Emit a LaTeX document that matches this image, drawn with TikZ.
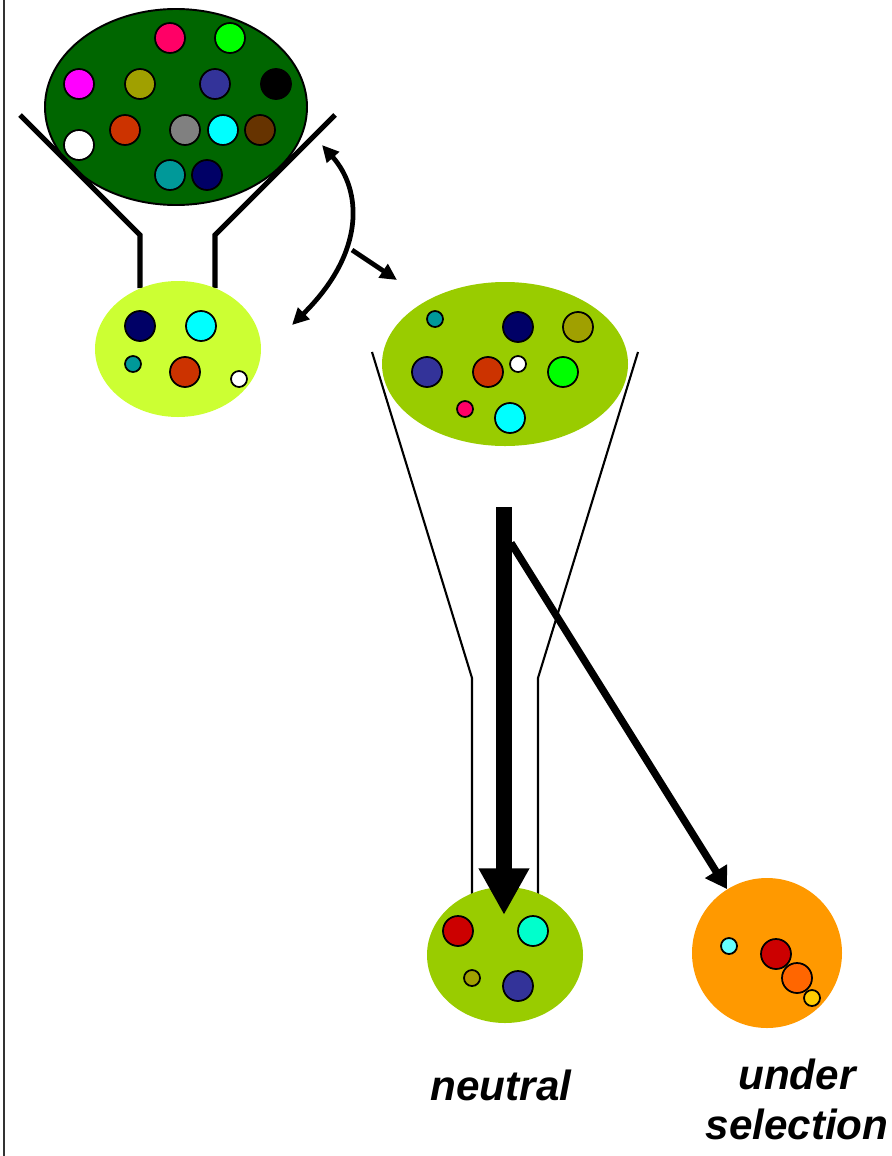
\documentclass[tikz,border=0pt]{standalone}
\usepackage{fontspec}
\setmainfont{Liberation Sans}
\usetikzlibrary{shapes.geometric,arrows.meta}

\definecolor{poolgreen}{HTML}{006600}
\definecolor{palegreen}{HTML}{CCFF33}
\definecolor{midgreen}{HTML}{99CC00}
\definecolor{selorange}{HTML}{FF9900}
\definecolor{cpink}{HTML}{FF0066}
\definecolor{clime}{HTML}{00FF00}
\definecolor{cmagenta}{HTML}{FF00FF}
\definecolor{colive}{HTML}{A0A000}
\definecolor{cslate}{HTML}{333399}
\definecolor{crust}{HTML}{CC3300}
\definecolor{cgrey}{HTML}{808080}
\definecolor{ccyan}{HTML}{00FFFF}
\definecolor{cbrown}{HTML}{663300}
\definecolor{cteal}{HTML}{009999}
\definecolor{cnavy}{HTML}{000066}
\definecolor{cred}{HTML}{CC0000}
\definecolor{caqua}{HTML}{00FFCC}
\definecolor{corange}{HTML}{FF6600}
\definecolor{cgold}{HTML}{FFCC00}
\definecolor{clightcyan}{HTML}{66FFFF}

\begin{document}
\begin{tikzpicture}[x=0.2mm,y=-0.2mm,
    dot/.style={shape=circle,draw=black,line width=1pt,inner sep=0pt,minimum size=6mm},
    small/.style={dot,minimum size=3.2mm},
    blob/.style={shape=ellipse,inner sep=0pt},
    funnel/.style={line width=3pt},
    neck/.style={line width=1.2pt},
    swap arrow/.style={line width=2.7pt},
    tag/.style={inner sep=0pt,font=\bfseries\itshape\fontsize{24}{28.35}\selectfont}]
    \useasboundingbox (0,0) rectangle (891,1156);
    \draw[line width=1.2pt,black!80] (4,0) -- (4,1156);

    % the whole pool
    \node[blob,fill=poolgreen,draw=black,line width=1.1pt,minimum width=52.4mm,minimum height=39.2mm] (P) at (176,107) {};
    \node[dot,fill=cpink] (p1) at (170,38) {};
    \node[dot,fill=clime] (p2) at (230,38) {};
    \node[dot,fill=cmagenta] (p3) at (79,84) {};
    \node[dot,fill=colive] (p4) at (140,84) {};
    \node[dot,fill=cslate] (p5) at (215,84) {};
    \node[dot,fill=black] (p6) at (276,84) {};
    \node[dot,fill=white] (p7) at (79,145) {};
    \node[dot,fill=crust] (p8) at (125,130) {};
    \node[dot,fill=cgrey] (p9) at (185,130) {};
    \node[dot,fill=ccyan] (p10) at (223,130) {};
    \node[dot,fill=cbrown] (p11) at (260,130) {};
    \node[dot,fill=cteal] (p12) at (170,175) {};
    \node[dot,fill=cnavy] (p13) at (207,175) {};

    \draw[funnel] (20,115) -- (140,235) -- (140,288);
    \draw[funnel] (335,115) -- (215,235) -- (215,288);

    % sample taken through the funnel
    \node[blob,fill=palegreen,minimum width=33.2mm,minimum height=27.2mm] (S) at (178,349) {};
    \node[dot,fill=cnavy] (s1) at (140,326) {};
    \node[dot,fill=ccyan] (s2) at (201,326) {};
    \node[small,fill=cteal] (s3) at (133,364) {};
    \node[dot,fill=crust] (s4) at (185,372) {};
    \node[small,fill=white] (s5) at (239,379) {};

    \coordinate (A) at (322,145);
    \coordinate (B) at (292,325);
    \coordinate (C) at (352,250);
    \coordinate (D) at (397,280);
    \draw[swap arrow,{Triangle[width=9pt,length=9.5pt]}-{Triangle[width=9pt,length=9.5pt]}]
        (A) .. controls (362,190) and (366,252) .. (B);
    \draw[swap arrow,-{Triangle[width=9pt,length=9.5pt]}] (C) -- (D);

    % second funnel
    \draw[neck] (372,352) -- (472,678) -- (472,900);
    \draw[neck] (638,352) -- (538,678) -- (538,900);

    \node[blob,fill=midgreen,minimum width=49.2mm,minimum height=32.8mm] (M) at (505,364) {};
    \node[small,fill=cteal] (m1) at (435,319) {};
    \node[dot,fill=cnavy] (m2) at (518,327) {};
    \node[dot,fill=colive] (m3) at (578,327) {};
    \node[dot,fill=cslate] (m4) at (427,372) {};
    \node[dot,fill=crust] (m5) at (488,372) {};
    \node[small,fill=white] (m6) at (518,364) {};
    \node[dot,fill=clime] (m7) at (563,372) {};
    \node[small,fill=cpink] (m8) at (465,409) {};
    \node[dot,fill=ccyan] (m9) at (510,418) {};

    % neutral outcome
    \node[blob,fill=midgreen,minimum width=31.2mm,minimum height=27.2mm] (N) at (505,955) {};
    \node[dot,fill=cred] (n1) at (458,931) {};
    \node[dot,fill=caqua] (n2) at (533,931) {};
    \node[small,fill=colive] (n3) at (472,978) {};
    \node[dot,fill=cslate] (n4) at (518,986) {};

    % outcome under selection
    \node[shape=circle,fill=selorange,inner sep=0pt,minimum size=30mm] (U) at (767,953) {};
    \node[small,fill=clightcyan] (u1) at (729,946) {};
    \node[dot,fill=cred] (u2) at (776,954) {};
    \node[dot,fill=corange] (u3) at (797,978) {};
    \node[small,fill=cgold] (u4) at (812,998) {};

    \coordinate (top) at (504,507);
    \coordinate (drop) at (504,915);
    \coordinate (fork) at (511,543);
    \draw[line width=9pt,-{Triangle[width=27pt,length=26.5pt]}] (top) -- (drop);
    \draw[line width=4.2pt,-{Triangle[width=14pt,length=12pt]}] (fork) -- (U);

    \node[tag,anchor=base] (t1) at (501,1100) {neutral};
    \node[tag,anchor=north,align=center] (t2) at (797,1059) {under\\selection};
\end{tikzpicture}
\end{document}
